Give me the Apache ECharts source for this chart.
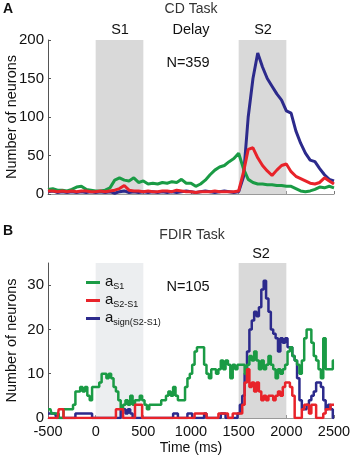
<!DOCTYPE html>
<html>
<head>
<meta charset="utf-8">
<script src="https://cdn.jsdelivr.net/npm/echarts@6/dist/echarts.min.js"></script>
<style>
  html, body { margin: 0; padding: 0; background: #fff; }
  #chart { width: 352px; height: 457px; }
</style>
</head>
<body>
<div id="chart"></div>
<script>
// 时间轴 (ms)
const tA = [-500,-450,-400,-350,-300,-250,-200,-150,-100,-50,0,50,100,150,200,250,300,350,400,450,
  500,550,600,650,700,750,800,850,900,950,1000,1050,1100,1150,1200,1250,1300,1350,1400,1450,
  1500,1550,1600,1650,1700,1750,1800,1850,1900,1950,2000,2050,2100,2150,2200,2250,2300,2350,2400,2450,2500];
// A: CD Task
const greenA = [6,7,5,5,4,6,9,10,6,5, 4,4,5,8,18,21,18,17,21,15, 17,13,14,13,15,14,16,15,19,14,
  14,10,13,18,25,31,35,37,42,46, 53,33,19,15,13,13,12,12,11,11, 10,10,7,4,3,4,6,9,8,10,8];
const redA = [4,4,3,4,3,4,3,4,4,3, 3,4,3,4,5,7,11,5,4,4, 3,4,3,3,4,4,3,5,4,3,
  3,2,3,3,3,4,3,3,3,3, 4,28,58,60,47,37,30,24,31,37, 39,29,23,20,17,14,13,15,21,17,13];
const blueA = [3,4,2,3,2,3,2,3,2,3, 2,3,2,3,1,3,4,2,3,2, 3,2,3,2,3,2,3,2,3,4,
  3,2,3,4,3,2,3,4,3,2, 3,22,100,150,183,165,150,140,130,122, 108,105,82,66,53,44,42,33,25,19,17];

const tB = [-500,-475,-450,-425,-400,-375,-350,-325,-300,-275,-250,-225,-200,-175,-150,-125,-100,-75,-50,-25,
  0,25,50,75,100,125,150,175,200,225,250,275,300,325,350,375,400,425,450,475,
  500,525,550,575,600,625,650,675,700,725,750,775,800,825,850,875,900,925,950,975,
  1000,1025,1050,1075,1100,1125,1150,1175,1200,1225,1250,1275,1300,1325,1350,1375,1400,1425,1450,1475,
  1500,1525,1550,1575,1600,1625,1650,1675,1700,1725,1750,1775,1800,1825,1850,1875,1900,1925,1950,1975,
  2000,2025,2050,2075,2100,2125,2150,2175,2200,2225,2250,2275,2300,2325,2350,2375,2400,2425,2450,2475,2500];
// B: FDIR Task
const greenB = [2,2,1,1,1,0,0,2,2,2, 2,3,6,6,7,6,7,5,4,7,
  7,7,8,10,10,9,10,9,7,6, 4,2,3,4,3,5,3,4,4,5,
  4,3,2,3,3,3,3,3,4,4, 5,6,5,7,5,4,4,4,7,9,
  10,12,15,16,16,16,12,10,9,11, 11,10,11,13,11,13,12,9,12,11,
  12,12,12,10,12,14,13,15,13,11, 13,11,12,14,12,11,9,11,10,11,
  12,15,16,14,13,12,10,13,18,20, 20,17,14,13,11,9,18,11,11,11, 13];
const redB = [0,0,0,0,0,2,2,0,0,0, 0,0,0,0,0,0,0,0,0,0,
  0,0,0,0,0,0,0,0,0,2, 2,2,0,0,0,0,0,3,3,3,
  0,0,0,0,0,0,0,0,0,0, 0,0,0,0,0,0,0,0,0,0,
  0,0,1,1,1,1,1,0,0,0, 0,0,1,1,1,1,0,0,1,1,
  1,1,3,8,11,7,8,6,8,6, 4,5,4,5,5,4,5,6,5,7,
  8,8,7,5,0,0,0,2,3,3, 1,3,3,0,0,0,1,2,2,3, 3];
const blueB = [1,1,1,1,0,0,0,0,0,0, 0,0,1,1,1,1,1,1,1,0,
  0,0,0,0,0,0,0,0,0,0, 0,2,2,1,2,1,0,0,0,0,
  0,0,0,0,0,0,0,0,0,0, 0,0,0,1,1,0,0,0,0,1,
  1,0,0,0,0,0,1,0,0,0, 0,0,0,1,1,0,0,0,0,0,
  1,3,5,10,15,20,22,24,23,25, 29,31,27,24,20,19,18,15,18,17,
  18,16,16,14,13,9,4,2,2,3, 4,5,6,8,8,7,4,2,3,2, 0];

const names = ['S1', 'S2-S1', 'sign(S2-S1)'];

const GREEN = '#1a9b45', RED = '#e8232a', BLUE = '#2c2a8c';
const FONT = 'Liberation Sans, Arial, sans-serif';

function pairs(t, v) {
  return t.map((x, i) => [x, v[i]]);
}

const chart = echarts.init(document.getElementById('chart'));

function yAxisCfg(gridIndex, max, interval, showMax) {
  return {
    gridIndex: gridIndex,
    type: 'value',
    min: 0, max: max, interval: interval,
    name: 'Number of neurons',
    nameLocation: 'middle',
    nameGap: 29,
    nameMoveOverlap: false,
    nameTextStyle: { fontSize: 14.5, color: '#111', fontFamily: FONT },
    axisLine: { show: true, onZero: false, lineStyle: { color: '#555', width: 1 } },
    axisTick: { show: true, inside: true, length: 3, lineStyle: { color: '#555' } },
    axisLabel: { fontSize: 15, color: '#111', fontFamily: FONT, margin: 4, showMaxLabel: showMax,
      formatter: v => String(v) },
    splitLine: { show: false }
  };
}

function xAxisCfg(gridIndex, showLabel) {
  return {
    gridIndex: gridIndex,
    type: 'value',
    min: -500, max: 2500, interval: 500,
    name: showLabel ? 'Time (ms)' : '',
    nameLocation: 'middle',
    nameGap: 23,
    nameMoveOverlap: false,
    nameTextStyle: { fontSize: 14, color: '#111', fontFamily: FONT },
    axisLine: { show: true, onZero: false, lineStyle: { color: '#999', width: 1 } },
    axisTick: { show: true, inside: true, length: 3, lineStyle: { color: '#777' } },
    axisLabel: { show: showLabel, fontSize: 14.5, color: '#111', fontFamily: FONT, margin: 6,
      formatter: v => String(v) },
    splitLine: { show: false }
  };
}

function lineSeries(name, color, data, idx, width, step) {
  return {
    name: name,
    type: 'line',
    xAxisIndex: idx, yAxisIndex: idx,
    data: data,
    symbol: 'none',
    step: step,
    lineStyle: { color: color, width: width },
    itemStyle: { color: color },
    z: 3
  };
}

function txt(x, y, text, size, weight, color) {
  return {
    type: 'text', x: x, y: y,
    style: {
      text: text, fontSize: size, fontWeight: weight || 'normal',
      fontFamily: FONT, fill: color || '#111',
      align: 'center', verticalAlign: 'middle'
    }
  };
}

const blueAS = lineSeries(names[2], BLUE, pairs(tA, blueA), 0, 3, false);
blueAS.markArea = {
  silent: true,
  itemStyle: { color: '#d9d9d9' },
  data: [[{ xAxis: 0 }, { xAxis: 500 }], [{ xAxis: 1500 }, { xAxis: 2000 }]]
};
const blueBS = lineSeries(names[2], BLUE, pairs(tB, blueB), 1, 2.5, 'middle');
blueBS.markArea = {
  silent: true,
  data: [
    [{ xAxis: 0, itemStyle: { color: '#eceef0' } }, { xAxis: 500 }],
    [{ xAxis: 1500, itemStyle: { color: '#d9d9d9' } }, { xAxis: 2000 }]
  ]
};

chart.setOption({
  animation: false,
  textStyle: { fontFamily: FONT },
  grid: [
    { left: 48, right: 18, top: 40, height: 154, outerBoundsMode: 'none', containLabel: false },
    { left: 48, right: 18, top: 263, height: 155, outerBoundsMode: 'none', containLabel: false }
  ],
  xAxis: [xAxisCfg(0, false), xAxisCfg(1, true)],
  yAxis: [yAxisCfg(0, 200, 50, true), yAxisCfg(1, 35, 10, false)],
  legend: {
    orient: 'vertical',
    left: 81, top: 269,
    itemWidth: 14, itemHeight: 3,
    itemGap: 1,
    icon: 'rect',
    data: names,
    formatter: function (n) { return '{a|a}{s|' + n + '}'; },
    textStyle: {
      color: '#111',
      rich: {
        a: { fontSize: 15, lineHeight: 17, verticalAlign: 'top', fontFamily: FONT, color: '#111' },
        s: { fontSize: 9, lineHeight: 9, verticalAlign: 'bottom', fontFamily: FONT, color: '#111' }
      }
    }
  },
  series: [
    blueAS,
    lineSeries(names[0], GREEN, pairs(tA, greenA), 0, 3, false),
    lineSeries(names[1], RED, pairs(tA, redA), 0, 3, false),
    blueBS,
    lineSeries(names[0], GREEN, pairs(tB, greenB), 1, 2.5, 'middle'),
    lineSeries(names[1], RED, pairs(tB, redB), 1, 2.5, 'middle')
  ],
  graphic: [
    txt(8, 9, 'A', 14, 'bold'),
    txt(191, 9, 'CD Task', 14, 'normal', '#333'),
    txt(120, 30, 'S1', 14.5),
    txt(191, 30, 'Delay', 14.5),
    txt(263, 30, 'S2', 14.5),
    txt(188, 63, 'N=359', 14.5),
    txt(8, 231, 'B', 14, 'bold'),
    txt(192, 235, 'FDIR Task', 14, 'normal', '#333'),
    txt(261, 254, 'S2', 14.5),
    txt(188, 287, 'N=105', 14.5)
  ]
});
</script>
</body>
</html>
